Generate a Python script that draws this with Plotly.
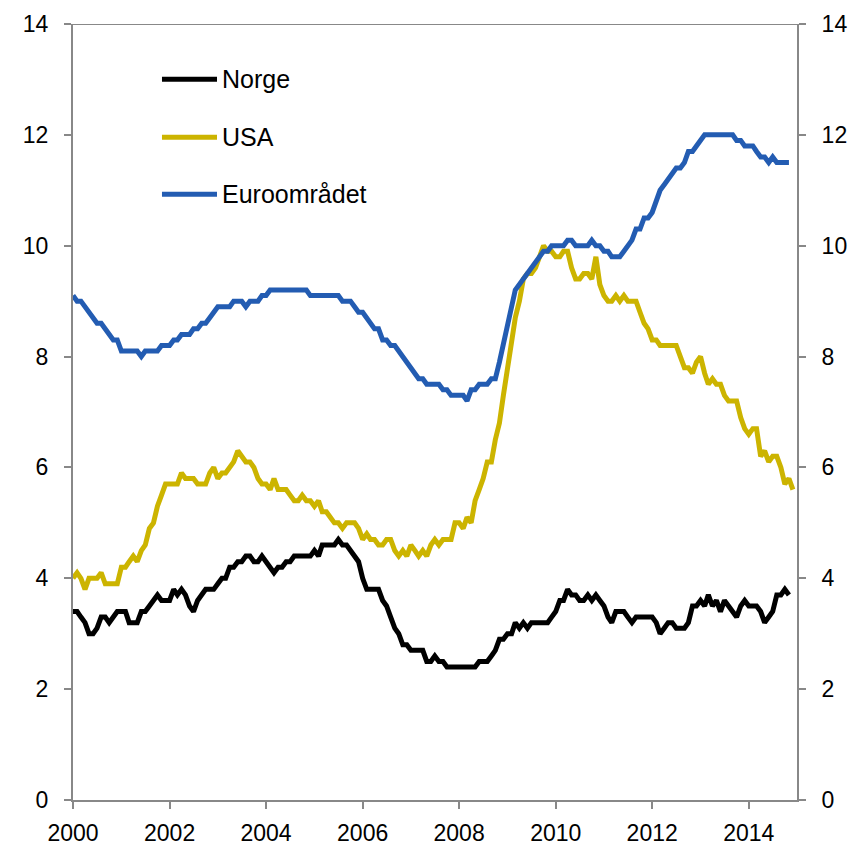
import pandas as pd
import plotly.graph_objects as go

# ---- data (monthly, %) ----
norge = [
    3.4, 3.4, 3.3, 3.2, 3.0, 3.0, 3.1, 3.3, 3.3, 3.2, 3.3, 3.4,  # 2000
    3.4, 3.4, 3.2, 3.2, 3.2, 3.4, 3.4, 3.5, 3.6, 3.7, 3.6, 3.6,  # 2001
    3.6, 3.8, 3.7, 3.8, 3.7, 3.5, 3.4, 3.6, 3.7, 3.8, 3.8, 3.8,  # 2002
    3.9, 4.0, 4.0, 4.2, 4.2, 4.3, 4.3, 4.4, 4.4, 4.3, 4.3, 4.4,  # 2003
    4.3, 4.2, 4.1, 4.2, 4.2, 4.3, 4.3, 4.4, 4.4, 4.4, 4.4, 4.4,  # 2004
    4.5, 4.4, 4.6, 4.6, 4.6, 4.6, 4.7, 4.6, 4.6, 4.5, 4.4, 4.3,  # 2005
    4.0, 3.8, 3.8, 3.8, 3.8, 3.6, 3.5, 3.3, 3.1, 3.0, 2.8, 2.8,  # 2006
    2.7, 2.7, 2.7, 2.7, 2.5, 2.5, 2.6, 2.5, 2.5, 2.4, 2.4, 2.4,  # 2007
    2.4, 2.4, 2.4, 2.4, 2.4, 2.5, 2.5, 2.5, 2.6, 2.7, 2.9, 2.9,  # 2008
    3.0, 3.0, 3.2, 3.1, 3.2, 3.1, 3.2, 3.2, 3.2, 3.2, 3.2, 3.3,  # 2009
    3.4, 3.6, 3.6, 3.8, 3.7, 3.7, 3.6, 3.6, 3.7, 3.6, 3.7, 3.6,  # 2010
    3.5, 3.3, 3.2, 3.4, 3.4, 3.4, 3.3, 3.2, 3.3, 3.3, 3.3, 3.3,  # 2011
    3.3, 3.2, 3.0, 3.1, 3.2, 3.2, 3.1, 3.1, 3.1, 3.2, 3.5, 3.5,  # 2012
    3.6, 3.5, 3.7, 3.5, 3.6, 3.4, 3.6, 3.5, 3.4, 3.3, 3.5, 3.6,  # 2013
    3.5, 3.5, 3.5, 3.4, 3.2, 3.3, 3.4, 3.7, 3.7, 3.8, 3.7,       # 2014
]

usa = [
    4.0, 4.1, 4.0, 3.8, 4.0, 4.0, 4.0, 4.1, 3.9, 3.9, 3.9, 3.9,  # 2000
    4.2, 4.2, 4.3, 4.4, 4.3, 4.5, 4.6, 4.9, 5.0, 5.3, 5.5, 5.7,  # 2001
    5.7, 5.7, 5.7, 5.9, 5.8, 5.8, 5.8, 5.7, 5.7, 5.7, 5.9, 6.0,  # 2002
    5.8, 5.9, 5.9, 6.0, 6.1, 6.3, 6.2, 6.1, 6.1, 6.0, 5.8, 5.7,  # 2003
    5.7, 5.6, 5.8, 5.6, 5.6, 5.6, 5.5, 5.4, 5.4, 5.5, 5.4, 5.4,  # 2004
    5.3, 5.4, 5.2, 5.2, 5.1, 5.0, 5.0, 4.9, 5.0, 5.0, 5.0, 4.9,  # 2005
    4.7, 4.8, 4.7, 4.7, 4.6, 4.6, 4.7, 4.7, 4.5, 4.4, 4.5, 4.4,  # 2006
    4.6, 4.5, 4.4, 4.5, 4.4, 4.6, 4.7, 4.6, 4.7, 4.7, 4.7, 5.0,  # 2007
    5.0, 4.9, 5.1, 5.0, 5.4, 5.6, 5.8, 6.1, 6.1, 6.5, 6.8, 7.3,  # 2008
    7.8, 8.3, 8.7, 9.0, 9.4, 9.5, 9.5, 9.6, 9.8, 10.0, 9.9, 9.9, # 2009
    9.8, 9.8, 9.9, 9.9, 9.6, 9.4, 9.4, 9.5, 9.5, 9.4, 9.8, 9.3,  # 2010
    9.1, 9.0, 9.0, 9.1, 9.0, 9.1, 9.0, 9.0, 9.0, 8.8, 8.6, 8.5,  # 2011
    8.3, 8.3, 8.2, 8.2, 8.2, 8.2, 8.2, 8.0, 7.8, 7.8, 7.7, 7.9,  # 2012
    8.0, 7.7, 7.5, 7.6, 7.5, 7.5, 7.3, 7.2, 7.2, 7.2, 6.9, 6.7,  # 2013
    6.6, 6.7, 6.7, 6.2, 6.3, 6.1, 6.2, 6.2, 6.0, 5.7, 5.8, 5.6,  # 2014
]

euro = [
    9.1, 9.0, 9.0, 8.9, 8.8, 8.7, 8.6, 8.6, 8.5, 8.4, 8.3, 8.3,  # 2000
    8.1, 8.1, 8.1, 8.1, 8.1, 8.0, 8.1, 8.1, 8.1, 8.1, 8.2, 8.2,  # 2001
    8.2, 8.3, 8.3, 8.4, 8.4, 8.4, 8.5, 8.5, 8.6, 8.6, 8.7, 8.8,  # 2002
    8.9, 8.9, 8.9, 8.9, 9.0, 9.0, 9.0, 8.9, 9.0, 9.0, 9.0, 9.1,  # 2003
    9.1, 9.2, 9.2, 9.2, 9.2, 9.2, 9.2, 9.2, 9.2, 9.2, 9.2, 9.1,  # 2004
    9.1, 9.1, 9.1, 9.1, 9.1, 9.1, 9.1, 9.0, 9.0, 9.0, 8.9, 8.8,  # 2005
    8.8, 8.7, 8.6, 8.5, 8.5, 8.3, 8.3, 8.2, 8.2, 8.1, 8.0, 7.9,  # 2006
    7.8, 7.7, 7.6, 7.6, 7.5, 7.5, 7.5, 7.5, 7.4, 7.4, 7.3, 7.3,  # 2007
    7.3, 7.3, 7.2, 7.4, 7.4, 7.5, 7.5, 7.5, 7.6, 7.6, 7.9, 8.2,  # 2008
    8.5, 8.9, 9.2, 9.3, 9.4, 9.5, 9.6, 9.7, 9.8, 9.9, 9.9, 10.0, # 2009
    10.0, 10.0, 10.0, 10.1, 10.1, 10.0, 10.0, 10.0, 10.0, 10.1, 10.0, 10.0,  # 2010
    9.9, 9.9, 9.8, 9.8, 9.8, 9.9, 10.0, 10.1, 10.3, 10.3, 10.5, 10.5,      # 2011
    10.6, 10.8, 11.0, 11.1, 11.2, 11.3, 11.4, 11.4, 11.5, 11.7, 11.7, 11.8,  # 2012
    11.9, 12.0, 12.0, 12.0, 12.0, 12.0, 12.0, 12.0, 12.0, 11.9, 11.9, 11.8,  # 2013
    11.8, 11.8, 11.7, 11.6, 11.6, 11.5, 11.6, 11.5, 11.5, 11.5, 11.5,        # 2014
]

series_names = ["Norge", "USA", "Euroområdet"]
series_colors = ["#000000", "#CCB400", "#235CB2"]
x_tick_years = [2000, 2002, 2004, 2006, 2008, 2010, 2012, 2014]
y_ticks = [0, 2, 4, 6, 8, 10, 12, 14]

start = "2000-01-01"
def dates(n):
    return pd.date_range(start, periods=n, freq="MS")

FONT = "Arial, 'Liberation Sans', sans-serif"
AXIS_GREY = "#888888"
TICK_SIZE = 23
LEG_SIZE = 25

fig = go.Figure()
for name, vals, col in zip(series_names, [norge, usa, euro], series_colors):
    fig.add_trace(go.Scatter(
        x=dates(len(vals)), y=vals, mode="lines", name=name,
        line=dict(color=col, width=5), showlegend=False,
    ))
# invisible trace to activate the right axis
fig.add_trace(go.Scatter(x=[start], y=[None], yaxis="y2", showlegend=False,
                         hoverinfo="skip"))

tickvals = [pd.Timestamp(f"{y}-01-01") for y in x_tick_years]

common = dict(
    ticks="outside", ticklen=7, tickwidth=2, tickcolor=AXIS_GREY,
    showline=True, linecolor=AXIS_GREY, linewidth=2,
    showgrid=False, zeroline=False, automargin=False,
    tickfont=dict(family=FONT, size=TICK_SIZE, color="black"),
)

# the page adds an 8px body margin, so the figure is 857x837
fig.update_layout(
    width=857, height=837,
    margin=dict(l=65, r=68, t=16, b=45, autoexpand=False),
    paper_bgcolor="white", plot_bgcolor="white",
    font=dict(family=FONT, size=TICK_SIZE, color="black"),
    xaxis=dict(
        type="date", range=["2000-01-01", "2015-01-01"],
        tickvals=tickvals, ticktext=[str(y) for y in x_tick_years],
        ticklabelstandoff=4, **common,
    ),
    yaxis=dict(range=[0, 14], tickvals=y_ticks, ticklabelstandoff=11, **common),
    yaxis2=dict(range=[0, 14], tickvals=y_ticks, overlaying="y", side="right",
                ticklabelstandoff=11, **common),
)

# top border line
fig.add_shape(type="line", xref="paper", yref="y", x0=0, x1=1, y0=14, y1=14,
              line=dict(color=AXIS_GREY, width=2), layer="below")

# manual legend
leg_y = [0.9287, 0.854, 0.7805]
for name, col, yy in zip(series_names, series_colors, leg_y):
    fig.add_shape(type="line", xref="paper", yref="paper",
                  x0=0.1229, x1=0.1989, y0=yy, y1=yy,
                  line=dict(color=col, width=5))
    fig.add_annotation(xref="paper", yref="paper", x=0.2058, y=yy,
                       text=name, showarrow=False, xanchor="left",
                       yanchor="middle", xshift=-2,
                       font=dict(family=FONT, size=LEG_SIZE, color="black"))

fig.write_html("out.html")
